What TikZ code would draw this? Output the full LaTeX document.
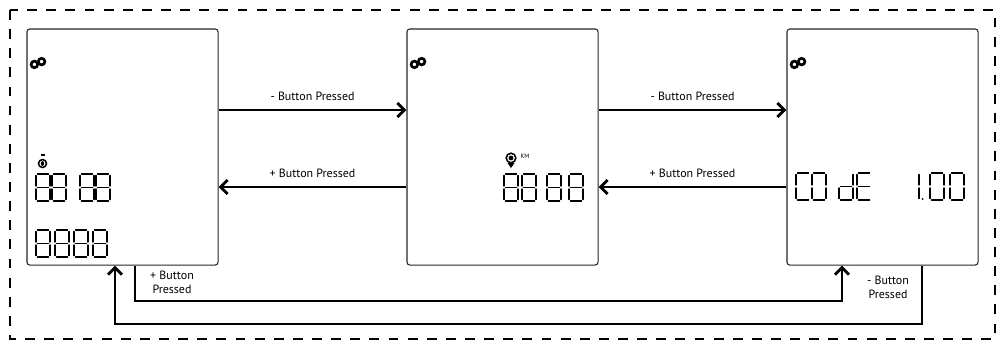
\documentclass[tikz,border=0pt]{standalone}
\usepackage{fontspec}
\setmainfont{PT Sans}
\usetikzlibrary{arrows.meta}

% seven segment parts, digit cell 14 x 27
\newcommand{\lcdsega}{\draw[segline] (0,0) -- (14,0);}
\newcommand{\lcdsegb}{\draw[segline] (14,0) -- (14,13.5);}
\newcommand{\lcdsegc}{\draw[segline] (14,13.5) -- (14,27);}
\newcommand{\lcdsegd}{\draw[segline] (0,27) -- (14,27);}
\newcommand{\lcdsege}{\draw[segline] (0,13.5) -- (0,27);}
\newcommand{\lcdsegf}{\draw[segline] (0,0) -- (0,13.5);}
\newcommand{\lcdsegg}{\draw[segline] (0,13.5) -- (14,13.5);}
\newcommand{\lcddigit}[2]{%
  \begin{scope}[shift={(#1)}]
    \foreach \s in {#2} {\csname lcdseg\s\endcsname}
  \end{scope}}
\newcommand{\lcdloop}[1]{%
  \begin{scope}[shift={(#1)}]
    \draw[line width=1.9pt] (-3.6,1.4) circle[radius=3.3];
    \draw[line width=1.9pt] (3.6,-1.4) circle[radius=3.3];
  \end{scope}}

\begin{document}
\begin{tikzpicture}[
  x=0.025cm, y=-0.025cm,
  lcd/.style={draw=black!85, line width=0.75pt, rounded corners=2pt,
    minimum width=4.775cm, minimum height=5.9cm, inner sep=0pt},
  flow/.style={line width=2pt, -{Straight Barb[length=5pt,width=10pt]}},
  btn/.style={font=\fontsize{8.5}{10}\selectfont, inner sep=1pt, align=center},
  segline/.style={line width=0.85pt, line cap=round, shorten >=1pt, shorten <=1pt},
  border/.style={line width=1.9pt, dash pattern=on 7pt off 6.6pt}]
\useasboundingbox (0,0) rectangle (999,343);

\draw[border] (10,10) rectangle (995,339);

% screens
\node[lcd] (trip) at (122.5,147) {};
\node[lcd] (odo) at (502.5,147) {};
\node[lcd] (code) at (882.5,147) {};

\lcdloop{38,63}
\lcdloop{418,63}
\lcdloop{798,63}

% trip screen
\draw[line width=0.9pt] (40.5,155) -- (44.5,155);
\draw[line width=1.1pt] (42.5,163.5) circle[radius=4];
\fill (42.5,163.5) ellipse[x radius=1.6, y radius=2.4];
\foreach \x in {36,52,80,96} {\lcddigit{\x,174}{a,b,c,d,e,f,g}}
\foreach \x in {36,55,74,93} {\lcddigit{\x,230}{a,b,c,d,e,f,g}}

% odometer screen
\draw[line width=1.1pt] (511,158) circle[radius=4.8];
\fill (511,158) circle[radius=2.4];
\fill (507.5,163) -- (514.5,163) -- (511,168) -- cycle;
\node[font=\fontsize{4.5}{5}\selectfont, inner sep=0pt] (km) at (525,156) {KM};
\foreach \x in {504,522,547,569} {\lcddigit{\x,174}{a,b,c,d,e,f,g}}

% code screen
\lcddigit{796,173}{a,d,e,f}
\lcddigit{812,173}{a,b,c,d,e,f}
\lcddigit{839,173}{b,c,d,e,g}
\lcddigit{857,173}{a,d,e,f,g}
\lcddigit{905,173}{b,c}
\fill (922.5,199) circle[radius=1];
\lcddigit{930,173}{a,b,c,d,e,f}
\lcddigit{950,173}{a,b,c,d,e,f}

% buttons
\draw[flow] (trip.east |- 0,110) -- node[btn, above=5pt] (tripodo) {- Button Pressed} (odo.west |- 0,110);
\draw[flow] (odo.west |- 0,187) -- node[btn, above=5pt] (odotrip) {+ Button Pressed} (trip.east |- 0,187);
\draw[flow] (odo.east |- 0,110) -- node[btn, above=5pt] (odocode) {- Button Pressed} (code.west |- 0,110);
\draw[flow] (code.west |- 0,187) -- node[btn, above=5pt] (codeodo) {+ Button Pressed} (odo.east |- 0,187);

\draw[flow] (trip.south -| 135,0) |- (842,301) -- (code.south -| 842,0);
\draw[flow] (code.south -| 922,0) |- (115,324) -- (trip.south -| 115,0);
\node[btn] (tripcode) at (172,282) {+ Button\\Pressed};
\node[btn] (codetrip) at (888,287) {- Button\\Pressed};
\end{tikzpicture}
\end{document}
